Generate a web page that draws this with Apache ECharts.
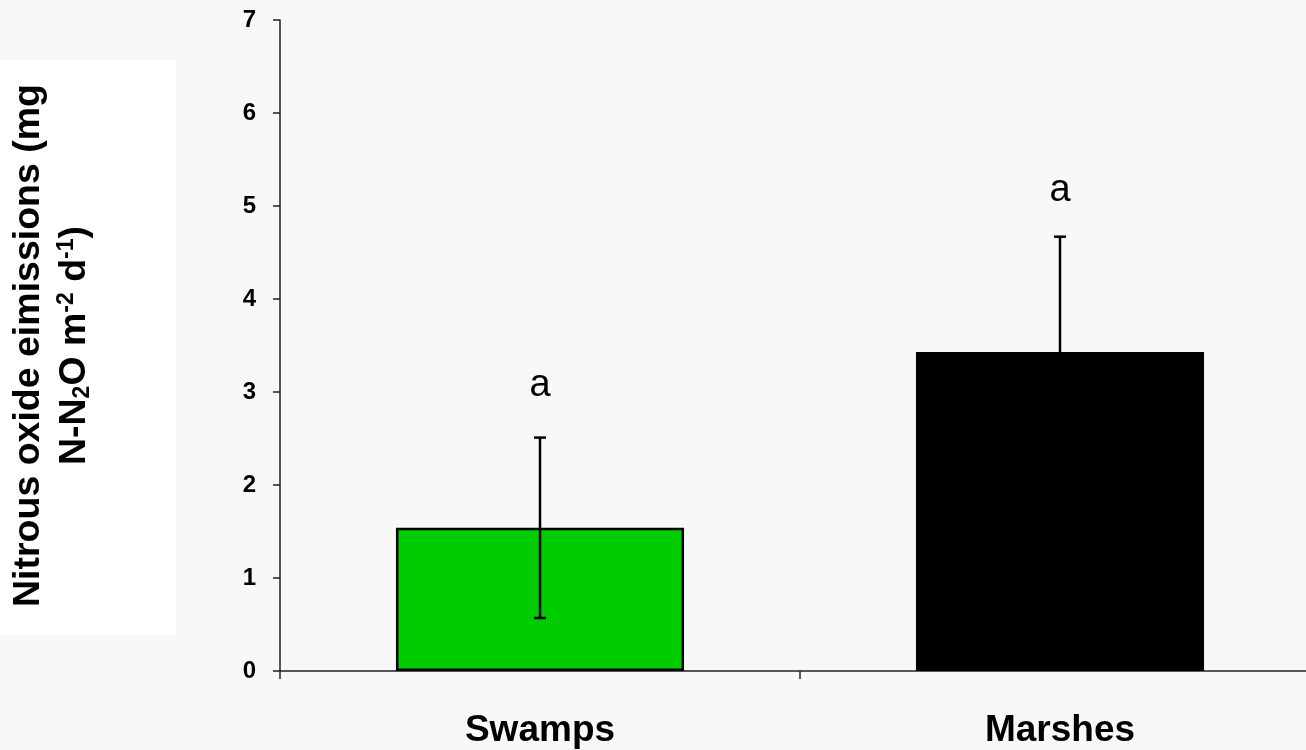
<!DOCTYPE html>
<html>
<head>
<meta charset="utf-8">
<script src="https://cdn.jsdelivr.net/npm/echarts@6/dist/echarts.min.js"></script>
<style>
html,body{margin:0;padding:0;background:#f8f8f8;overflow:hidden;width:1306px;height:750px;}
#chart{width:1320px;height:750px;}
</style>
</head>
<body>
<div id="chart"></div>
<script>
// ---- data ----
var categories = ['Swamps', 'Marshes'];
var meanValues = [1.54, 3.43];
var errorValues = [0.97, 1.24];
var letterLabels = ['a', 'a'];
var letterY = [3.07, 5.17];
var barColors = ['#00CC00', '#000000'];
var yTicks = [0, 1, 2, 3, 4, 5, 6, 7];

var chart = echarts.init(document.getElementById('chart'));

var errData = categories.map(function (c, i) {
  return [i, meanValues[i] - errorValues[i], meanValues[i] + errorValues[i]];
});

var option = {
  backgroundColor: '#f8f8f8',
  animation: false,
  graphic: [{
    type: 'rect', left: 0, top: 60, z: -10,
    shape: { width: 176, height: 575 },
    style: { fill: '#ffffff' }
  }],
  grid: { left: 280, right: 0, top: 20, bottom: 79, containLabel: false, outerBoundsMode: 'none' },
  xAxis: {
    type: 'category',
    data: categories,
    axisLine: { lineStyle: { color: '#222', width: 1.5 } },
    axisTick: { show: true, length: 8, lineStyle: { color: '#222', width: 1.5 } },
    axisLabel: {
      color: '#000', fontFamily: 'Liberation Sans, Arial', fontWeight: 'bold',
      fontSize: 37, margin: 41
    }
  },
  yAxis: {
    type: 'value',
    min: yTicks[0], max: yTicks[yTicks.length - 1], interval: 1,
    name: '{t|Nitrous oxide eimissions (mg}\n{t|N-N}{sub|2}{t|O m}{sup|-2}{t| d}{sup|-1}{t|)}',
    nameLocation: 'middle',
    nameRotate: 90,
    nameGap: 182,
    nameTextStyle: {
      color: '#000', fontFamily: 'Liberation Sans, Arial', fontWeight: 'bold',
      fontSize: 37.5, lineHeight: 46, align: 'center',
      rich: {
        t: { fontFamily: 'Liberation Sans, Arial', fontWeight: 'bold', fontSize: 37.5, lineHeight: 46, color: '#000' },
        sub: { fontFamily: 'Liberation Sans, Arial', fontWeight: 'bold', fontSize: 23, lineHeight: 46, color: '#000', padding: [16, 0, 0, 0] },
        sup: { fontFamily: 'Liberation Sans, Arial', fontWeight: 'bold', fontSize: 23, lineHeight: 46, color: '#000', padding: [0, 0, 16, 0] }
      }
    },
    splitLine: { show: false },
    axisLine: { show: true, lineStyle: { color: '#222', width: 1.5 } },
    axisTick: { show: true, length: 7, lineStyle: { color: '#222', width: 1.5 } },
    axisLabel: {
      color: '#000', fontFamily: 'Liberation Sans, Arial', fontWeight: 'bold',
      fontSize: 24, margin: 24
    }
  },
  series: [
    {
      type: 'bar',
      barWidth: '55.4%',
      data: meanValues.map(function (v, i) {
        return { value: v, itemStyle: { color: barColors[i], borderColor: '#000', borderWidth: 2.5 } };
      }),
      z: 2
    },
    {
      type: 'custom',
      z: 5,
      data: errData,
      renderItem: function (params, api) {
        var x = api.coord([api.value(0), 0])[0];
        var lo = api.coord([api.value(0), api.value(1)])[1];
        var hi = api.coord([api.value(0), api.value(2)])[1];
        var hw = 6;
        var st = { stroke: '#000', lineWidth: 2.5 };
        return {
          type: 'group',
          children: [
            { type: 'line', shape: { x1: x, y1: lo, x2: x, y2: hi }, style: st },
            { type: 'line', shape: { x1: x - hw, y1: hi, x2: x + hw, y2: hi }, style: st },
            { type: 'line', shape: { x1: x - hw, y1: lo, x2: x + hw, y2: lo }, style: st }
          ]
        };
      }
    },
    {
      type: 'scatter',
      symbolSize: 0,
      itemStyle: { opacity: 1 },
      data: letterY.map(function (v, i) { return [i, v]; }),
      label: {
        show: true, position: 'inside', opacity: 1,
        formatter: function (p) { return letterLabels[p.dataIndex]; },
        color: '#000', fontFamily: 'Liberation Sans, Arial', fontSize: 38
      },
      z: 6
    }
  ]
};
chart.setOption(option);
</script>
</body>
</html>
